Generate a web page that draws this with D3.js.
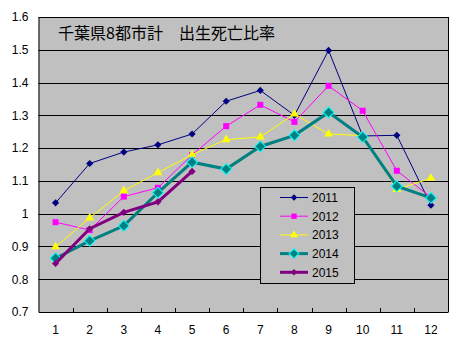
<!DOCTYPE html>
<html><head><meta charset="utf-8">
<script src="https://cdn.jsdelivr.net/npm/d3@7"></script>
<style>body{margin:0;background:#fff}svg{display:block}</style>
</head><body>
<svg id="c" width="463" height="341"></svg>
<script>
const months = ["1","2","3","4","5","6","7","8","9","10","11","12"];
const seriesNames = ["2011","2012","2013","2014","2015"];
const v2011 = [1.033,1.153,1.188,1.21,1.243,1.343,1.376,1.30,1.498,1.237,1.239,1.026];
const v2012 = [0.974,0.95,1.052,1.079,1.179,1.267,1.332,1.28,1.39,1.314,1.131,1.05];
const v2013 = [0.899,0.987,1.07,1.125,1.18,1.226,1.234,1.304,1.243,1.238,1.074,1.108];
const v2014 = [0.864,0.917,0.963,1.064,1.157,1.136,1.205,1.239,1.309,1.234,1.084,1.048];
const v2015 = [0.848,0.954,1.004,1.036,1.129];
const yTicks = [0.7,0.8,0.9,1,1.1,1.2,1.3,1.4,1.5,1.6];
const title = "千葉県8都市計\u3000出生死亡比率";

const styles = [
  {name:"2011", vals:v2011, color:"#000080", w:1, sym:d3.symbolSquare, rot:45, size:26, fill:"#000080", stroke:"none"},
  {name:"2012", vals:v2012, color:"#FF00FF", w:1, sym:d3.symbolSquare, rot:0, size:36, fill:"#FF00FF", stroke:"none"},
  {name:"2013", vals:v2013, color:"#FFFF00", w:1, sym:d3.symbolTriangle, rot:0, size:34, fill:"#FFFF00", stroke:"none"},
  {name:"2014", vals:v2014, color:"#008080", w:3, sym:d3.symbolSquare, rot:45, size:58, fill:"#008080", stroke:"#00FFFF"},
  {name:"2015", vals:v2015, color:"#800080", w:3, sym:d3.symbolSquare, rot:45, size:26, fill:"#800080", stroke:"none"}
];

const svg = d3.select("#c");
const L=38.5, R=448, T=17, B=312;
const x = d3.scaleBand().domain(months).range([L,R]);
const y = d3.scaleLinear().domain([0.7,1.6]).range([B,T]);

svg.append("rect").attr("x",L).attr("y",T).attr("width",R-L).attr("height",B-T).attr("fill","#C0C0C0");

svg.append("g").selectAll("line").data(yTicks.slice(1)).join("line")
  .attr("x1",L).attr("x2",R).attr("y1",d=>Math.round(y(d))+0.5).attr("y2",d=>Math.round(y(d))+0.5)
  .attr("stroke","#000").attr("stroke-width",1);

svg.append("line").attr("x1",R+0.5).attr("x2",R+0.5).attr("y1",T).attr("y2",B).attr("stroke","#000");

const ya = svg.append("g").attr("transform",`translate(${L},0)`)
  .call(d3.axisLeft(y).tickValues(yTicks).tickSize(0).tickPadding(10).tickFormat(d=>String(d)));
ya.select(".domain").attr("stroke","#000");
ya.selectAll("text").attr("font-family","Liberation Sans, Arial, sans-serif").attr("font-size",12).attr("fill","#000");

const xa = svg.append("g").attr("transform",`translate(0,${B})`)
  .call(d3.axisBottom(x).tickSize(0).tickPadding(13));
xa.select(".domain").attr("stroke","#000");
xa.selectAll("text").attr("font-family","Liberation Sans, Arial, sans-serif").attr("font-size",12).attr("fill","#000");
svg.append("g").selectAll("line").data(months).join("line")
  .attr("x1",d=>Math.round(x(d)+x.bandwidth())+0.5).attr("x2",d=>Math.round(x(d)+x.bandwidth())+0.5)
  .attr("y1",B-4).attr("y2",B).attr("stroke","#000");

svg.append("text").attr("x",58).attr("y",39).text(title)
  .attr("font-family","Noto Sans CJK JP, sans-serif").attr("font-size",16).attr("fill","#000");

const cx = i => x(months[i]) + x.bandwidth()/2;
const line = d3.line().x((d,i)=>cx(i)).y(d=>y(d));

styles.forEach(s=>{
  const g = svg.append("g");
  g.append("path").attr("d",line(s.vals)).attr("fill","none").attr("stroke",s.color).attr("stroke-width",s.w);
  g.selectAll("path.m").data(s.vals).join("path").attr("class","m")
    .attr("d",d3.symbol().type(s.sym).size(s.size))
    .attr("transform",(d,i)=>`translate(${cx(i)},${y(d)}) rotate(${s.rot})`)
    .attr("fill",s.fill).attr("stroke",s.stroke).attr("stroke-width",1);
});

const lg = svg.append("g");
lg.append("rect").attr("x",260.5).attr("y",187.5).attr("width",94).attr("height",96)
  .attr("fill","#C0C0C0").attr("stroke","#000");
styles.forEach((s,i)=>{
  const yy = 197.5 + i*18.7;
  lg.append("line").attr("x1",280).attr("x2",308).attr("y1",yy).attr("y2",yy).attr("stroke",s.color).attr("stroke-width",s.w);
  lg.append("path").attr("d",d3.symbol().type(s.sym).size(s.size*0.8)).attr("transform",`translate(294,${yy}) rotate(${s.rot})`)
    .attr("fill",s.fill).attr("stroke",s.stroke);
  lg.append("text").attr("x",312).attr("y",yy+4.5).text(s.name)
    .attr("font-family","Liberation Sans, Arial, sans-serif").attr("font-size",12).attr("fill","#000");
});
</script>
</body></html>
